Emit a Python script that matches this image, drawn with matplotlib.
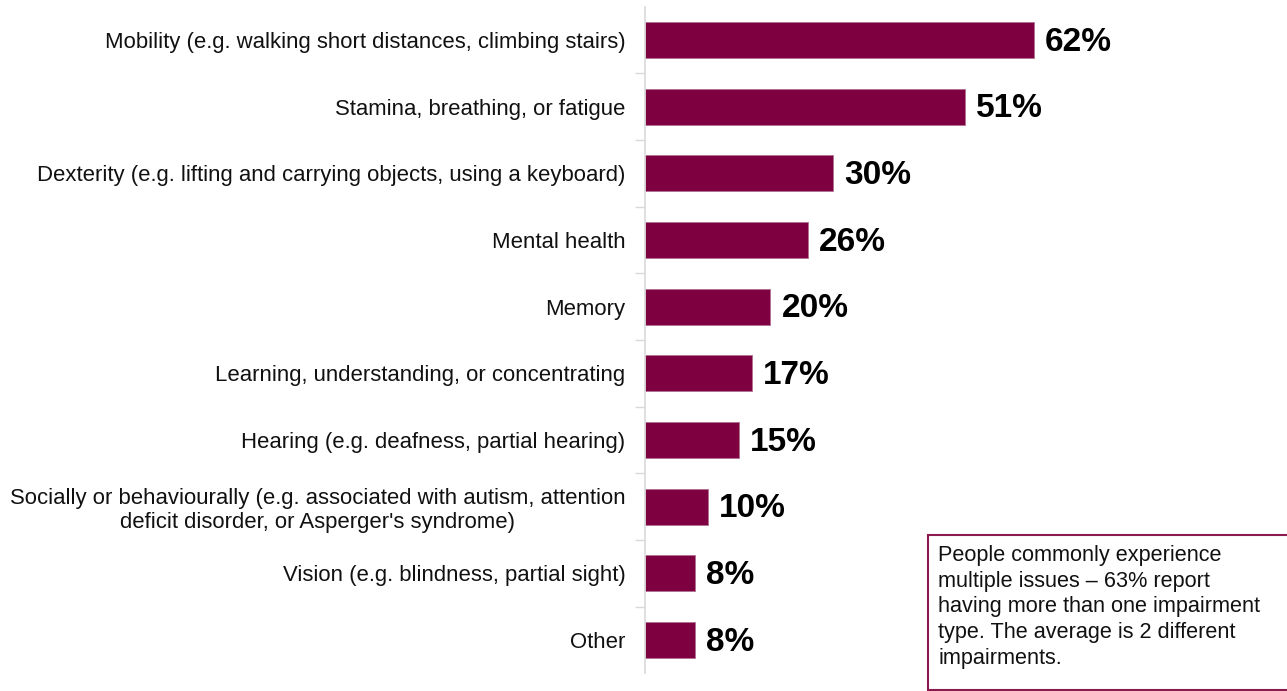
import matplotlib
matplotlib.use("Agg")
import matplotlib.pyplot as plt
from matplotlib.patches import Rectangle

categories = [
    "Mobility (e.g. walking short distances, climbing stairs)",
    "Stamina, breathing, or fatigue",
    "Dexterity (e.g. lifting and carrying objects, using a keyboard)",
    "Mental health",
    "Memory",
    "Learning, understanding, or concentrating",
    "Hearing (e.g. deafness, partial hearing)",
    "Socially or behaviourally (e.g. associated with autism, attention\ndeficit disorder, or Asperger's syndrome)",
    "Vision (e.g. blindness, partial sight)",
    "Other",
]
values = [62, 51, 30, 26, 20, 17, 15, 10, 8, 8]
note = ("People commonly experience\nmultiple issues \u2013 63% report\n"
        "having more than one impairment\ntype. The average is 2 different\nimpairments.")

plt.rcParams["font.family"] = ["Liberation Sans", "DejaVu Sans"]
BAR = "#7E0040"

W, H = 1287, 691
fig = plt.figure(figsize=(W / 100, H / 100), dpi=100)
left_px, top_px, bot_px = 645, 6.7, 673.3
ax = fig.add_axes([left_px / W, 1 - bot_px / H, 1 - left_px / W, (bot_px - top_px) / H])

n = len(categories)
ypos = list(range(n))
ax.barh(ypos, values, height=0.54, color=BAR, edgecolor="#B07090", linewidth=0.6)
ax.set_ylim(n - 0.5, -0.5)
ax.set_xlim(0, (W - left_px) / 6.27)

for y, v in zip(ypos, values):
    ax.annotate(f"{v}%", (v, y), xytext=(8, -1.5), textcoords="offset points",
                ha="left", va="center", fontsize=24, fontweight="bold", color="black")

ax.set_yticks(ypos)
ax.set_yticklabels(categories, fontsize=15.9, color="#111111", ha="right",
                   multialignment="center", linespacing=1.2)
ax.tick_params(axis="y", which="major", length=0, pad=14)
ax.set_yticks([i + 0.5 for i in range(n - 1)], minor=True)
ax.tick_params(axis="y", which="minor", length=7, color="#d9d9d9", width=1)
ax.set_xticks([])
for s in ["top", "right", "bottom"]:
    ax.spines[s].set_visible(False)
ax.spines["left"].set_color("#d9d9d9")
ax.spines["left"].set_linewidth(1.2)

# explanatory note box
bx0, by0, bx1, by1 = 928, 535, 1290, 690
fig.patches.append(Rectangle((bx0 / W, 1 - by1 / H), (bx1 - bx0) / W, (by1 - by0) / H,
                             transform=fig.transFigure, facecolor="white",
                             edgecolor="#8A1A50", linewidth=1.5, zorder=5))
fig.text(938 / W, 1 - 545 / H, note, ha="left", va="top", fontsize=15.6,
         color="#111111", linespacing=1.29, zorder=6)

fig.savefig("out.png", dpi=100)
